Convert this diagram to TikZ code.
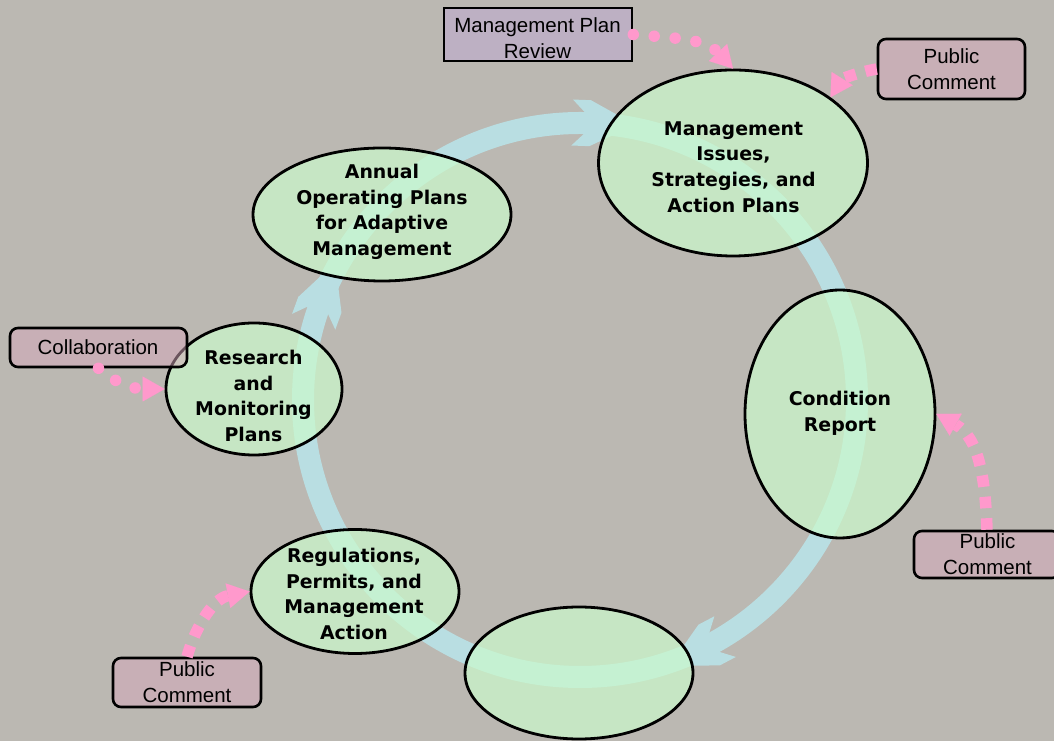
\documentclass[tikz,border=0pt]{standalone}
\usepackage{fontspec}
\setmainfont{Liberation Sans}
\newfontfamily\ellfont{DejaVu Sans}
\usetikzlibrary{shapes.geometric,arrows.meta}
\definecolor{bgc}{RGB}{187,184,178}
\definecolor{ringblue}{RGB}{185,222,226}
\definecolor{ellfill}{RGB}{203,250,204}
\definecolor{lavfill}{RGB}{191,170,212}
\definecolor{pcfill}{RGB}{213,168,186}
\definecolor{pinkc}{RGB}{255,153,204}
\begin{document}
\begin{tikzpicture}[x=1pt,y=1pt,
  ell/.style={ellipse,draw=black,line width=2.8pt,fill=ellfill,fill opacity=0.7,draw opacity=1,inner sep=0pt},
  ellt/.style={font=\ellfont\bfseries\fontsize{18.9}{25.7}\selectfont,align=center,inner sep=0pt,text=black},
  sqbox/.style={rectangle,draw=black,line width=2.6pt,fill=lavfill,fill opacity=0.5,draw opacity=1,inner sep=0pt},
  rbox/.style={rectangle,rounded corners=8pt,draw=black,line width=2.6pt,fill=pcfill,fill opacity=0.5,draw opacity=1,inner sep=0pt},
  boxt/.style={font=\fontsize{20.5}{26}\selectfont,align=center,inner sep=0pt,text=black},
  pinkround/.style={draw=pinkc,line width=11.5pt,line cap=round,dash pattern=on 0pt off 21pt,
     -{Triangle[length=22pt,width=25pt,line width=0.01pt]}},
  pinksquare/.style={draw=pinkc,line width=11.5pt,line cap=butt,dash pattern=on 11.5pt off 10pt,
     -{Triangle[length=22pt,width=25pt,line width=0.01pt]}}
]
\fill[bgc] (0,0) rectangle (1054,741);
\useasboundingbox (0,0) rectangle (1054,741);

% cycle ring
\draw[ringblue,line width=22pt] (580,341) circle[radius=277];
\foreach \a in {87.9,159.9,-62.2}{
  \fill[ringblue,shift={(580,341)},rotate=\a]
    (288,6) -- (300,18) -- (300,0) -- (277,-45) -- (254,0) -- (254,18) -- (266,6) -- cycle;
}

% ellipses
\node[ell,minimum width=269pt,minimum height=186pt] (mi) at (733,578) {};
\node[ell,minimum width=258pt,minimum height=133pt] (aop) at (382,526.5) {};
\node[ell,minimum width=176pt,minimum height=132pt] (rmp) at (254,352) {};
\node[ell,minimum width=190pt,minimum height=248pt] (cr) at (840,327) {};
\node[ell,minimum width=208pt,minimum height=124pt] (reg) at (355,149.5) {};
\node[ell,minimum width=228pt,minimum height=132pt] (emp) at (579,68) {};

\node[ellt] (mit) at (733.5,574) {Management\\Issues,\\Strategies, and\\Action Plans};
\node[ellt] (aopt) at (382,529) {Annual\\Operating Plans\\for Adaptive\\Management};
\node[ellt] (rmpt) at (253.5,345) {Research\\and\\Monitoring\\Plans};
\node[ellt] (crt) at (840,328) {Condition\\Report};
\node[ellt] (regt) at (354,147) {Regulations,\\Permits, and\\Management\\Action};

% boxes
\node[sqbox,minimum width=188pt,minimum height=53pt] (mpr) at (538,706.5) {};
\node[rbox,minimum width=147pt,minimum height=60pt] (pc1) at (951.5,672) {};
\node[rbox,minimum width=177pt,minimum height=39pt] (collab) at (98.5,393.5) {};
\node[rbox,minimum width=146pt,minimum height=47pt] (pc2) at (987,186.5) {};
\node[rbox,minimum width=148pt,minimum height=49pt] (pc3) at (187,58.5) {};

\node[boxt] (mprt) at (537.5,702.5) {Management Plan\\Review};
\node[boxt] (pc1t) at (951.5,672) {Public\\Comment};
\node[boxt] (collabt) at (98,394) {Collaboration};
\node[boxt] (pc2t) at (987.5,187) {Public\\Comment};
\node[boxt] (pc3t) at (187,58.5) {Public\\Comment};

% pink connectors
\draw[pinkround] (mpr.east) to[out=-5,in=133] (mi.north);
\draw[pinksquare] (pc1.west) to[out=190,in=58] (mi.34);
\draw[pinkround] (collab.south) to[out=-41,in=180] (rmp.west);
\draw[pinksquare] (pc2.north) to[out=92,in=-29] (cr.east);
\draw[pinksquare] (pc3.north) to[out=74,in=191] (reg.west);
\end{tikzpicture}
\end{document}
